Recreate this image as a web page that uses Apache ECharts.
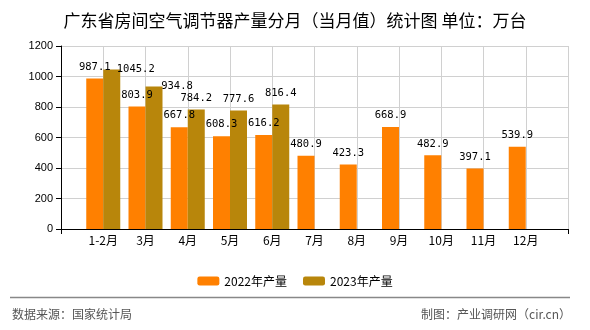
<!DOCTYPE html>
<html>
<head>
<meta charset="utf-8">
<script src="https://cdn.jsdelivr.net/npm/echarts@6/dist/echarts.min.js"></script>
<style>
html,body{margin:0;padding:0;background:#fff;}
#c{width:590px;height:330px;}
</style>
</head>
<body>
<div id="c"></div>
<script>
const titleText = '广东省房间空气调节器产量分月（当月值）统计图 单位：万台';
const categories = ['1-2月','3月','4月','5月','6月','7月','8月','9月','10月','11月','12月'];
const series2022Name = '2022年产量';
const series2023Name = '2023年产量';
const values2022 = [987.1, 803.9, 667.8, 608.3, 616.2, 480.9, 423.3, 668.9, 482.9, 397.1, 539.9];
const values2023 = [1045.2, 934.8, 784.2, 777.6, 816.4];
const yTicks = [0, 200, 400, 600, 800, 1000, 1200];
const sourceText = '数据来源：国家统计局';
const creditText = '制图：产业调研网（cir.cn）';

// style: nudge for overlapping labels (index -> offset)
const labelNudge2023 = {0: [24, 11], 1: [23, 11]};

const cats = [''].concat(categories, ['']);
const pad = arr => [null].concat(arr, new Array(cats.length - 1 - arr.length).fill(null));

const labelStyle = {
  show: true, position: 'top', distance: 6,
  fontFamily: 'DejaVu Sans Mono', fontSize: 10.5, color: '#000',
  formatter: p => p.value == null ? '' : p.value.toFixed(1)
};

const d2023 = pad(values2023).map((v, i) => {
  const k = i - 1;
  if (v != null && labelNudge2023[k]) {
    return {value: v, label: {offset: labelNudge2023[k]}};
  }
  return v;
});

const chart = echarts.init(document.getElementById('c'), null, {renderer: 'canvas'});
chart.setOption({
  animation: false,
  backgroundColor: '#fff',
  title: {
    text: titleText, left: 'center', top: 7,
    textStyle: {fontFamily: 'Noto Sans CJK SC', fontSize: 17, fontWeight: 'normal', color: '#000'}
  },
  legend: {
    data: [series2022Name, series2023Name],
    left: 'center', top: 270,
    itemWidth: 22, itemHeight: 9, itemGap: 16,
    textStyle: {fontFamily: 'Noto Sans CJK SC', fontSize: 12, color: '#000'}
  },
  grid: {left: 61, right: 22, top: 46, bottom: 101},
  xAxis: {
    type: 'category', data: cats, boundaryGap: false,
    axisLine: {lineStyle: {color: '#000', width: 1}},
    axisTick: {show: true, length: 5, lineStyle: {color: '#000'},
      interval: (i) => i === 0 || i === cats.length - 1},
    axisLabel: {interval: 0, fontFamily: 'Noto Sans CJK SC', fontSize: 12, color: '#000', margin: 5},
    splitLine: {show: true, lineStyle: {color: '#d0d0d0', width: 1}}
  },
  yAxis: {
    type: 'value', min: yTicks[0], max: yTicks[yTicks.length - 1], interval: yTicks[1] - yTicks[0],
    axisLine: {show: true, lineStyle: {color: '#000', width: 1}},
    axisTick: {show: true, length: 5, lineStyle: {color: '#000'}},
    axisLabel: {fontFamily: 'Liberation Sans', fontSize: 11, color: '#000', margin: 8,
      formatter: v => String(v)},
    splitLine: {show: true, lineStyle: {color: '#d0d0d0', width: 1}}
  },
  series: [
    {name: series2022Name, type: 'bar', data: pad(values2022), barWidth: 17, barGap: '0%',
      itemStyle: {color: '#FF8000'}, label: labelStyle},
    {name: series2023Name, type: 'bar', data: d2023, barWidth: 17, barGap: '0%',
      itemStyle: {color: '#B8860B'}, label: labelStyle}
  ],
  graphic: [
    {type: 'line', shape: {x1: 10, y1: 297.5, x2: 570, y2: 297.5}, style: {stroke: '#888', lineWidth: 1.5}},
    {type: 'text', left: 12, top: 308, style: {text: sourceText, font: '12px "Noto Sans CJK SC"', fill: '#555'}},
    {type: 'text', right: 19, top: 308, style: {text: creditText, font: '12px "Noto Sans CJK SC"', fill: '#555'}}
  ]
});
</script>
</body>
</html>
